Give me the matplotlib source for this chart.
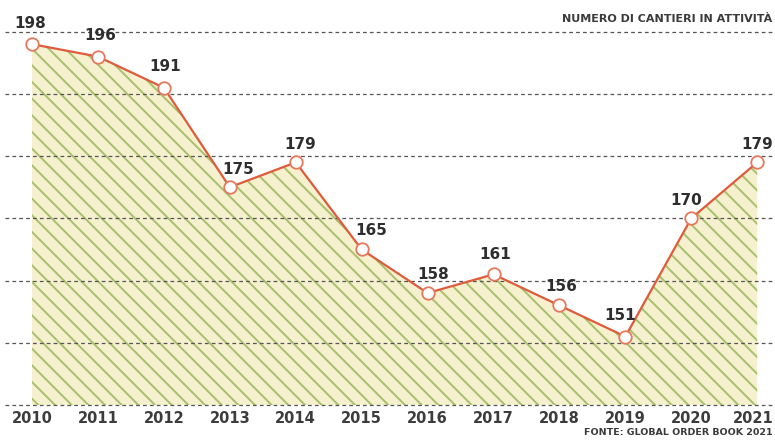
import matplotlib.pyplot as plt
import matplotlib as mpl
from matplotlib.transforms import offset_copy

anni = [2010, 2011, 2012, 2013, 2014, 2015, 2016, 2017, 2018, 2019, 2020, 2021]
cantieri = [198, 196, 191, 175, 179, 165, 158, 161, 156, 151, 170, 179]
griglia = [140, 150, 160, 170, 180, 190, 200]

# spostamento delle etichette (punti tipografici)
offset = [(-1, 15), (2, 15), (1, 15), (6, 13), (3, 13), (7, 14),
          (4, 13), (1, 14), (1, 14), (-4, 15), (-4, 13), (0, 13)]

mpl.rcParams['hatch.linewidth'] = 1.4
mpl.rcParams['hatch.color'] = '#a9bf6c'

fig = plt.figure(figsize=(7.75, 4.47), dpi=100)
ax = fig.add_axes([0, 42/447, 1, 405/447])

x = list(range(len(anni)))
ax.fill_between(x, cantieri, 140, facecolor='#f5f1cf', edgecolor='#a9bf6c',
                hatch='\\\\', linewidth=0, zorder=1)

for g in griglia:
    ax.axhline(g, xmin=0.006, color='#555555', lw=0.9, ls=(0, (3, 2.5)),
               zorder=2, clip_on=False)

ax.plot(x, cantieri, color='#e05a3c', lw=1.6, zorder=3)
ax.plot(x, cantieri, 'o', ms=9, mfc='white', mec='#e8785c', mew=1.3, zorder=4)

for i, v in enumerate(cantieri):
    ax.annotate(str(v), (x[i], v), xytext=offset[i], textcoords='offset points',
                ha='center', va='center', fontsize=11, fontweight='bold',
                color='#2e2e2e', zorder=5)

ax.set_xlim(-0.486, 11.27)
ax.set_ylim(140, 205.1)
ax.set_xticks(x)
ax.set_xticklabels([str(a) for a in anni], fontsize=10.5, fontweight='bold',
                   color='#3c3c3c')
ax.tick_params(axis='x', length=0, pad=4)
ax.set_yticks([])
for s in ax.spines.values():
    s.set_visible(False)

# l'ultima etichetta un po' a sinistra per non uscire dal bordo
ultima = ax.get_xticklabels()[-1]
ultima.set_transform(offset_copy(ultima.get_transform(), fig=fig, x=-3, units='points'))

fig.text(0.997, 0.958, 'NUMERO DI CANTIERI IN ATTIVITÀ', ha='right', va='center',
         fontsize=8, fontweight='bold', color='#3a3a3a')
fig.text(0.997, 0.033, 'FONTE: GLOBAL ORDER BOOK 2021', ha='right', va='center',
         fontsize=6.8, fontweight='bold', color='#3a3a3a')

fig.savefig('out.png', dpi=100)
